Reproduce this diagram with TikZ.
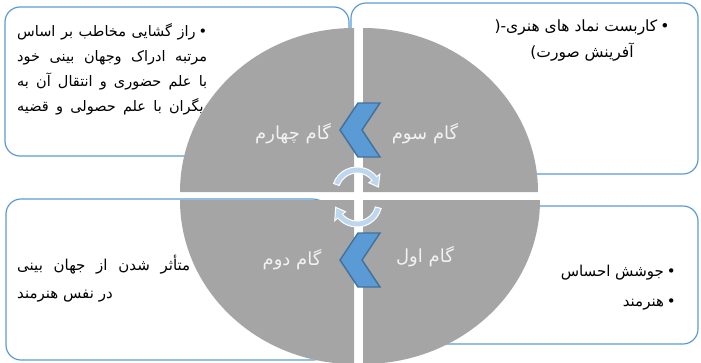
\documentclass[tikz,border=0pt]{standalone}
\usepackage{fontspec}
\usetikzlibrary{calc}
\newfontfamily\arabicfont[Script=Arabic]{DejaVu Sans}
\TeXXeTstate=1
\newcommand\jline[2]{\hbox to #1{\spaceskip=0.25em plus 1fill minus 0.1em #2}}
\definecolor{boxblue}{HTML}{5B9BD5}
\definecolor{chevfill}{HTML}{5B9BD5}
\definecolor{chevline}{HTML}{41719C}
\definecolor{quadgray}{HTML}{A5A5A5}
\definecolor{arrowfill}{HTML}{BDD7EE}
\definecolor{labelwhite}{HTML}{F2F2F2}
\tikzset{
  infobox/.style={draw=boxblue, line width=1.2pt, fill=white, rounded corners=15pt, inner sep=0pt},
  quad/.style={fill=quadgray},
  chev/.style={fill=chevfill, draw=chevline, line width=1.4pt, line join=miter},
  cyc/.style={fill=arrowfill, draw=white, line width=1pt},
  boxtext/.style={inner sep=0pt},
  steplabel/.style={inner sep=0pt, text=labelwhite, font=\arabicfont\fontsize{18}{20}\selectfont}
}
\begin{document}
\begin{tikzpicture}[x=1pt,y=-1pt]
\useasboundingbox (0,0) rectangle (701,362);
% boxes
\node[infobox, minimum width=344pt, minimum height=149pt] (tlbox) at (177,81.5) {};
\node[infobox, minimum width=347pt, minimum height=171pt] (trbox) at (524.5,88.5) {};
\node[infobox, minimum width=322pt, minimum height=161pt] (blbox) at (167,279.5) {};
\node[infobox, minimum width=318pt, minimum height=138pt] (brbox) at (539,275) {};
% texts
\node[boxtext, align=left, anchor=west, font=\arabicfont\fontsize{14.5}{25}\selectfont] (tltext) at (17,69.5) {%
\jline{190pt}{\beginR •\kern3pt راز گشایی مخاطب بر اساس\endR}\\
\jline{190pt}{\beginR مرتبه ادراک وجهان بینی خود\endR}\\
\jline{190pt}{\beginR با علم حضوری و انتقال آن به\endR}\\
\jline{193pt}{\beginR دیگران با علم حصولی و قضیه\endR}};
\node[boxtext, align=center, font=\arabicfont\fontsize{15.5}{26}\selectfont] (trtext) at (582,41) {%
\mbox{(}\mbox{-}\beginR •\kern3pt کاربست نماد های هنری\endR\\
\mbox{)}\beginR آفرینش صورت\endR};
\node[boxtext, align=left, anchor=west, font=\arabicfont\fontsize{15}{28}\selectfont] (bltext) at (17,279) {%
\jline{173pt}{\beginR متأثر شدن از جهان بینی\endR}\\
\beginR در نفس هنرمند\endR};
\node[boxtext, align=right, anchor=east, font=\arabicfont\fontsize{15}{30}\selectfont] (brtext) at (676,287.5) {%
\beginR •\kern3pt جوشش احساس\endR\\
\beginR •\kern3pt هنرمند\endR};
% quadrants
\fill[quad] (354,192) -- (180,192) arc[start angle=180, end angle=270, x radius=174, y radius=164] -- cycle;
\fill[quad] (363,192) -- (363,28) arc[start angle=270, end angle=360, x radius=175, y radius=164] -- cycle;
\fill[quad] (363,200) -- (540,200) arc[start angle=0, end angle=90, x radius=177, y radius=164] -- cycle;
\fill[quad] (354,200) -- (354,364) arc[start angle=90, end angle=180, x radius=174, y radius=164] -- cycle;
% chevrons
\draw[chev] (340,130) -- (358,103) -- (380,103) -- (362,130) -- (380,157) -- (358,157) -- cycle;
\draw[chev] (340,260) -- (358,233) -- (380,233) -- (362,260) -- (380,287) -- (358,287) -- cycle;
% circular arrows
\coordinate (cu) at (357,192);
\coordinate (cl) at (357,202);
\draw[cyc] ($(cu)+(200:25)$) arc[start angle=200, end angle=322, radius=25]
  -- ($(cu)+(322:29)$) -- ($(cu)+(347:22)$) -- ($(cu)+(322:15)$) -- ($(cu)+(322:19)$)
  arc[start angle=322, end angle=200, radius=19] -- cycle;
\draw[cyc] ($(cl)+(15:25)$) arc[start angle=15, end angle=140, radius=25]
  -- ($(cl)+(140:29)$) -- ($(cl)+(166:22)$) -- ($(cl)+(140:15)$) -- ($(cl)+(140:19)$)
  arc[start angle=140, end angle=15, radius=19] -- cycle;
% step labels
\node[steplabel] (g4) at (293,134) {\beginR گام چهارم\endR};
\node[steplabel] (g3) at (425,134) {\beginR گام سوم\endR};
\node[steplabel] (g2) at (292,260) {\beginR گام دوم\endR};
\node[steplabel] (g1) at (425,257) {\beginR گام اول\endR};
\end{tikzpicture}
\end{document}
